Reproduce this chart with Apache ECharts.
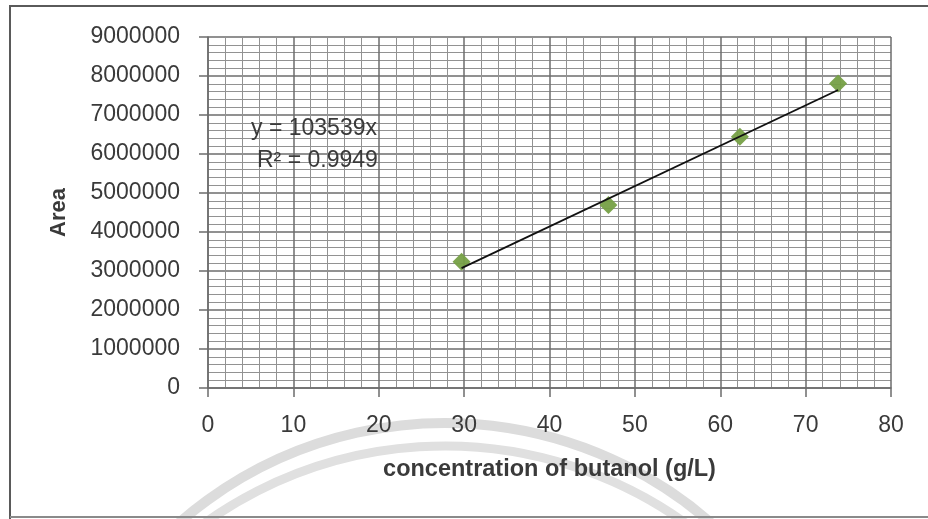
<!DOCTYPE html>
<html>
<head>
<meta charset="utf-8">
<title>Butanol calibration</title>
<script src="https://cdn.jsdelivr.net/npm/echarts@6/dist/echarts.min.js"></script>
<style>
  html, body { margin: 0; padding: 0; background: #fff; }
  #chart { width: 928px; height: 519px; }
</style>
</head>
<body>
<div id="chart"></div>
<script>
// Calibration standards: butanol concentration (g/L) vs. peak area
const concentration = [29.7, 46.9, 62.3, 73.8];
const area = [3240000, 4690000, 6440000, 7810000];

// Linear fit forced through the origin
const slope = 103539;
const rSquared = 0.9949;

const xTicks = { min: 0, max: 80, interval: 10 };
const yTicks = { min: 0, max: 9000000, interval: 1000000 };

const FONT = '"Liberation Sans", Arial, sans-serif';
const TEXT = '#3a3a3a';
const MAJOR = '#6c6c6c';
const MINOR = '#929292';

const points = concentration.map((x, i) => [x, area[i]]);
const xLo = Math.min(...concentration);
const xHi = Math.max(...concentration);
const fitLine = [[xLo, slope * xLo], [xHi, slope * xHi]];

const chart = echarts.init(document.getElementById('chart'), null, { renderer: 'canvas' });

chart.setOption({
  animation: false,
  backgroundColor: '#ffffff',
  grid: { left: 208, top: 37, right: 37, bottom: 131, containLabel: false },
  xAxis: {
    type: 'value',
    min: xTicks.min, max: xTicks.max, interval: xTicks.interval,
    name: 'concentration of butanol (g/L)',
    nameLocation: 'middle',
    nameGap: 70,
    nameTextStyle: { fontFamily: FONT, fontSize: 23.5, fontWeight: 'bold', color: TEXT },
    axisLine: { show: true, onZero: false, lineStyle: { color: MAJOR, width: 1.5 } },
    axisTick: { show: true, inside: false, length: 9, lineStyle: { color: MAJOR, width: 1.5 } },
    axisLabel: { fontFamily: FONT, fontSize: 23, color: TEXT, margin: 26 },
    splitLine: { show: true, lineStyle: { color: MAJOR, width: 1.5 } },
    minorTick: { show: false, splitNumber: 5 },
    minorSplitLine: { show: true, lineStyle: { color: MINOR, width: 1 } }
  },
  yAxis: {
    type: 'value',
    min: yTicks.min, max: yTicks.max, interval: yTicks.interval,
    name: 'Area',
    nameLocation: 'middle',
    nameGap: 138,
    nameRotate: 90,
    nameTextStyle: { fontFamily: FONT, fontSize: 22, fontWeight: 'bold', color: TEXT },
    axisLine: { show: true, lineStyle: { color: MAJOR, width: 1.5 } },
    axisTick: { show: true, inside: false, length: 9, lineStyle: { color: MAJOR, width: 1.5 } },
    axisLabel: {
      fontFamily: FONT, fontSize: 23, color: TEXT, margin: 28,
      formatter: (v) => String(v)
    },
    splitLine: { show: true, lineStyle: { color: MAJOR, width: 1.5 } },
    minorTick: { show: false, splitNumber: 5 },
    minorSplitLine: { show: true, lineStyle: { color: MINOR, width: 1 } }
  },
  graphic: [
    // faint emblem arcs behind the chart
    {
      type: 'arc', silent: true, z: -10,
      shape: { cx: 445, cy: 827, r: 404, startAngle: Math.PI * 1.05, endAngle: Math.PI * 1.95 },
      style: { stroke: '#dcdcdc', lineWidth: 10, fill: null }
    },
    {
      type: 'arc', silent: true, z: -10,
      shape: { cx: 445, cy: 859, r: 413, startAngle: Math.PI * 1.1, endAngle: Math.PI * 1.9 },
      style: { stroke: '#e0e0e0', lineWidth: 9, fill: null }
    },
    // chart frame
    {
      type: 'polyline', silent: true, z: 100,
      shape: { points: [[10, 519], [10, 6], [928, 6]] },
      style: { stroke: '#5a5a5a', lineWidth: 2, fill: null }
    },
    {
      type: 'line', silent: true, z: 100,
      shape: { x1: 10, y1: 517, x2: 928, y2: 517 },
      style: { stroke: '#8a8a8a', lineWidth: 2 }
    },
    // trendline equation
    {
      type: 'text', z: 100, left: 251, top: 117,
      style: { text: 'y = ' + slope + 'x', font: '23px ' + FONT, fill: TEXT }
    },
    {
      type: 'text', z: 100, left: 257, top: 149,
      style: { text: 'R² = ' + rSquared, font: '23px ' + FONT, fill: TEXT }
    }
  ],
  series: [
    {
      name: 'Area',
      type: 'scatter',
      data: points,
      symbol: 'diamond',
      symbolSize: 18,
      itemStyle: { color: '#76a046', opacity: 0.95 },
      z: 3
    },
    {
      name: 'Linear fit',
      type: 'line',
      data: fitLine,
      showSymbol: false,
      symbol: 'none',
      lineStyle: { color: '#111111', width: 1.8 },
      z: 4
    }
  ]
});
</script>
</body>
</html>
